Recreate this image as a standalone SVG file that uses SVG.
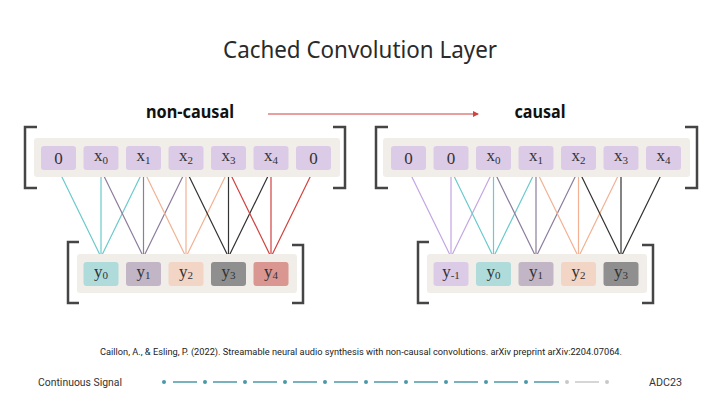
<svg xmlns="http://www.w3.org/2000/svg" width="720" height="405" viewBox="0 0 720 405">
<defs>
<style>
.bg{fill:#f1eee9}
.bx{fill:#dccbe6}
.brk{fill:none;stroke:#454545;stroke-width:2.5}
.t{font-family:"Liberation Serif",serif;font-size:17px;fill:#333;text-anchor:middle}
.sub{font-size:11px}
.ln{fill:none;stroke-width:1.2}
.cy{stroke:#6ccacc}.pu{stroke:#8c7d9c}.pe{stroke:#f2b293}.dk{stroke:#333}.rd{stroke:#d2423f}.lv{stroke:#c4a6e2}
.dot{fill:#4a98a8}
</style>
<marker id="ah" markerWidth="6" markerHeight="6" refX="5" refY="3" orient="auto" markerUnits="userSpaceOnUse"><path d="M0,0 L6,3 L0,6 Z" fill="#d2423f"/></marker>
</defs>
<rect width="720" height="405" fill="#fff"/>
<text x="360" y="58" font-family="'Noto Sans',sans-serif" font-size="23" fill="#2a2a2a" text-anchor="middle" textLength="274" lengthAdjust="spacingAndGlyphs">Cached Convolution Layer</text>
<text x="190" y="118" font-family="'Noto Sans',sans-serif" font-weight="bold" font-size="17" fill="#111" text-anchor="middle" textLength="88" lengthAdjust="spacingAndGlyphs">non-causal</text>
<text x="540" y="118" font-family="'Noto Sans',sans-serif" font-weight="bold" font-size="17" fill="#111" text-anchor="middle" textLength="51" lengthAdjust="spacingAndGlyphs">causal</text>
<g id="connectors">
<line x1="268" y1="114" x2="478" y2="114" stroke="#d2423f" stroke-width="1.2" marker-end="url(#ah)"/>
<path class="ln cy" d="M58.5,170 L101,257 M101,170 L101,257 M143.5,170 L101,257"/>
<path class="ln pu" d="M101,170 L143.5,257 M143.5,170 L143.5,257 M186,170 L143.5,257"/>
<path class="ln pe" d="M143.5,170 L186,257 M186,170 L186,257 M228.5,170 L186,257"/>
<path class="ln dk" d="M186,170 L228.5,257 M228.5,170 L228.5,257 M271,170 L228.5,257"/>
<path class="ln rd" d="M228.5,170 L271,257 M271,170 L271,257 M313.5,170 L271,257"/>
<path class="ln lv" d="M408.5,170 L451,257 M451,170 L451,257 M493.5,170 L451,257"/>
<path class="ln cy" d="M451,170 L493.5,257 M493.5,170 L493.5,257 M536,170 L493.5,257"/>
<path class="ln pu" d="M493.5,170 L536,257 M536,170 L536,257 M578.5,170 L536,257"/>
<path class="ln pe" d="M536,170 L578.5,257 M578.5,170 L578.5,257 M621,170 L578.5,257"/>
<path class="ln dk" d="M578.5,170 L621,257 M621,170 L621,257 M663.5,170 L621,257"/>
</g>
<g id="left-input">
<rect class="bg" x="34" y="138" width="306" height="39" rx="3"/>
<path class="brk" d="M37,127 H25 V188 H37"/>
<path class="brk" d="M333,127 H345 V188 H333"/>
<rect class="bx" x="41" y="146" width="35" height="24" rx="3"/>
<rect class="bx" x="83.5" y="146" width="35" height="24" rx="3"/>
<rect class="bx" x="126" y="146" width="35" height="24" rx="3"/>
<rect class="bx" x="168.5" y="146" width="35" height="24" rx="3"/>
<rect class="bx" x="211" y="146" width="35" height="24" rx="3"/>
<rect class="bx" x="253.5" y="146" width="35" height="24" rx="3"/>
<rect class="bx" x="296" y="146" width="35" height="24" rx="3"/>
<text class="t" x="58.5" y="164">0</text>
<text class="t" x="101" y="161">x<tspan class="sub" dy="3">0</tspan></text>
<text class="t" x="143.5" y="161">x<tspan class="sub" dy="3">1</tspan></text>
<text class="t" x="186" y="161">x<tspan class="sub" dy="3">2</tspan></text>
<text class="t" x="228.5" y="161">x<tspan class="sub" dy="3">3</tspan></text>
<text class="t" x="271" y="161">x<tspan class="sub" dy="3">4</tspan></text>
<text class="t" x="313.5" y="164">0</text>
</g>
<g id="left-output">
<rect class="bg" x="77" y="254" width="220" height="39" rx="3"/>
<path class="brk" d="M79,242 H68 V303 H79"/>
<path class="brk" d="M292,245 H303 V303 H292"/>
<rect x="83.5" y="262" width="35" height="24" rx="3" fill="#afdcdb"/>
<rect x="126" y="262" width="35" height="24" rx="3" fill="#c1b5c6"/>
<rect x="168.5" y="262" width="35" height="24" rx="3" fill="#f2d5c5"/>
<rect x="211" y="262" width="35" height="24" rx="3" fill="#8f8f8f"/>
<rect x="253.5" y="262" width="35" height="24" rx="3" fill="#da9691"/>
<text class="t" x="101" y="277">y<tspan class="sub" dy="2">0</tspan></text>
<text class="t" x="143.5" y="277">y<tspan class="sub" dy="2">1</tspan></text>
<text class="t" x="186" y="277">y<tspan class="sub" dy="2">2</tspan></text>
<text class="t" x="228.5" y="277">y<tspan class="sub" dy="2">3</tspan></text>
<text class="t" x="271" y="277">y<tspan class="sub" dy="2">4</tspan></text>
</g>
<g id="right-input">
<rect class="bg" x="383" y="138" width="307" height="39" rx="3"/>
<path class="brk" d="M388,127 H376 V188 H388"/>
<path class="brk" d="M685,127 H697 V188 H685"/>
<rect class="bx" x="391" y="146" width="35" height="24" rx="3"/>
<rect class="bx" x="433.5" y="146" width="35" height="24" rx="3"/>
<rect class="bx" x="476" y="146" width="35" height="24" rx="3"/>
<rect class="bx" x="518.5" y="146" width="35" height="24" rx="3"/>
<rect class="bx" x="561" y="146" width="35" height="24" rx="3"/>
<rect class="bx" x="603.5" y="146" width="35" height="24" rx="3"/>
<rect class="bx" x="646" y="146" width="35" height="24" rx="3"/>
<text class="t" x="408.5" y="164">0</text>
<text class="t" x="451" y="164">0</text>
<text class="t" x="493.5" y="161">x<tspan class="sub" dy="3">0</tspan></text>
<text class="t" x="536" y="161">x<tspan class="sub" dy="3">1</tspan></text>
<text class="t" x="578.5" y="161">x<tspan class="sub" dy="3">2</tspan></text>
<text class="t" x="621" y="161">x<tspan class="sub" dy="3">3</tspan></text>
<text class="t" x="663.5" y="161">x<tspan class="sub" dy="3">4</tspan></text>
</g>
<g id="right-output">
<rect class="bg" x="427" y="254" width="220" height="39" rx="3"/>
<path class="brk" d="M429,242 H418 V303 H429"/>
<path class="brk" d="M642,245 H653 V303 H642"/>
<rect class="bx" x="433.5" y="262" width="35" height="24" rx="3"/>
<rect x="476" y="262" width="35" height="24" rx="3" fill="#afdcdb"/>
<rect x="518.5" y="262" width="35" height="24" rx="3" fill="#c1b5c6"/>
<rect x="561" y="262" width="35" height="24" rx="3" fill="#f2d5c5"/>
<rect x="603.5" y="262" width="35" height="24" rx="3" fill="#8f8f8f"/>
<text class="t" x="451" y="277">y<tspan class="sub" dy="2">-1</tspan></text>
<text class="t" x="493.5" y="277">y<tspan class="sub" dy="2">0</tspan></text>
<text class="t" x="536" y="277">y<tspan class="sub" dy="2">1</tspan></text>
<text class="t" x="578.5" y="277">y<tspan class="sub" dy="2">2</tspan></text>
<text class="t" x="621" y="277">y<tspan class="sub" dy="2">3</tspan></text>
</g>
<text x="361" y="355" font-family="Roboto,sans-serif" font-size="9" fill="#222" text-anchor="middle" textLength="522" lengthAdjust="spacingAndGlyphs">Caillon, A., &amp; Esling, P. (2022). Streamable neural audio synthesis with non-causal convolutions. arXiv preprint arXiv:2204.07064.</text>
<text x="38" y="386" font-family="Roboto,sans-serif" font-size="11" fill="#333" textLength="84" lengthAdjust="spacingAndGlyphs">Continuous Signal</text>
<text x="682" y="386" font-family="Roboto,sans-serif" font-size="11" fill="#333" text-anchor="end" textLength="33" lengthAdjust="spacingAndGlyphs">ADC23</text>
<g id="progress">
<g stroke="#4a98a8" stroke-width="1.5">
<line x1="173" y1="382" x2="197" y2="382"/>
<line x1="213" y1="382" x2="237" y2="382"/>
<line x1="253" y1="382" x2="277" y2="382"/>
<line x1="293" y1="382" x2="317" y2="382"/>
<line x1="334" y1="382" x2="358" y2="382"/>
<line x1="374" y1="382" x2="398" y2="382"/>
<line x1="414" y1="382" x2="438" y2="382"/>
<line x1="454" y1="382" x2="478" y2="382"/>
<line x1="494" y1="382" x2="518" y2="382"/>
<line x1="534" y1="382" x2="559" y2="382"/>
</g>
<line x1="575" y1="382" x2="599" y2="382" stroke="#c8c8c8" stroke-width="1.5"/>
<circle class="dot" cx="164" cy="382" r="2"/>
<circle class="dot" cx="205" cy="382" r="2"/>
<circle class="dot" cx="245" cy="382" r="2"/>
<circle class="dot" cx="285" cy="382" r="2"/>
<circle class="dot" cx="325" cy="382" r="2"/>
<circle class="dot" cx="366" cy="382" r="2"/>
<circle class="dot" cx="406" cy="382" r="2"/>
<circle class="dot" cx="446" cy="382" r="2"/>
<circle class="dot" cx="486" cy="382" r="2"/>
<circle class="dot" cx="526" cy="382" r="2"/>
<circle cx="567" cy="382" r="2" fill="#c8c8c8"/>
<circle cx="607" cy="382" r="2" fill="#c8c8c8"/>
</g>
</svg>
